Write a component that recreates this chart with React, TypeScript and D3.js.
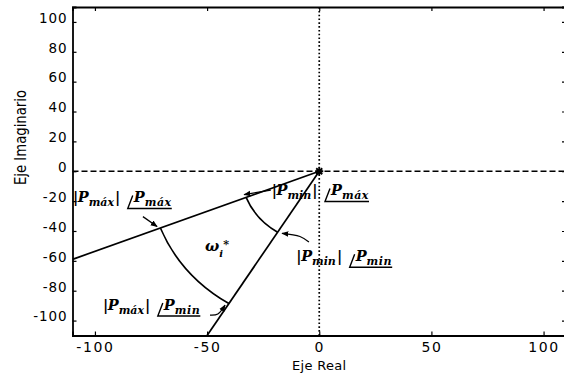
import React, { useEffect, useRef } from "react";
import * as d3 from "d3";

// axes
const xDomain = [-110, 110];
const yDomain = [-110, 110];
const xTicks = [-100, -50, 0, 50, 100];
const yTicks = [-100, -80, -60, -40, -20, 0, 20, 40, 60, 80, 100];

// rays from the origin: angle of Pmáx and angle of Pmin (end points, Re / Im)
const rayRe = [-110, -50];
const rayIm = [-59, -110];

// |Pmin| and |Pmáx| arcs (radius in Re units, Im weighted by imWeight)
const magnitudes = [35, 76];
const imWeight = 0.727;

// annotation labels |P_mag| /P_ang
const labelMag = ["máx", "min", "min", "máx"];
const labelAng = ["máx", "máx", "min", "min"];
const labelRe = [-109.8, -21.2, -10.2, -96.4];
const labelIm = [-20.6, -15.9, -59.9, -92.6];

// arrows pointing to the corners of the region
const arrowRe = [[-78.6, -72.3], [-21.6, -33.5], [-4.6, -8.6, -16.6], [-48.7, -45.2, -42.0]];
const arrowIm = [[-30.4, -37.0], [-12.6, -15.6], [-47.4, -43.7, -41.6], [-96.3, -95.6, -89.6]];

// ω label of the region
const omegaRe = -50.9;
const omegaIm = -53.4;

const W = 564, H = 373;
const left = 72.5, right = 566, top = 7, bottom = 335.5;

export default function App() {
	const ref = useRef<SVGSVGElement>(null);

	useEffect(() => {
		const svg = d3.select(ref.current);
		svg.selectAll("*").remove();

		const x = d3.scaleLinear().domain(xDomain).range([left, right]);
		const y = d3.scaleLinear().domain(yDomain).range([bottom, top]);
		const sans = "'DejaVu Sans', Arial, sans-serif";
		const serif = "'DejaVu Serif', 'Liberation Serif', serif";

		svg.append("rect").attr("width", W).attr("height", H).attr("fill", "#fff");

		const defs = svg.append("defs");
		defs.append("clipPath").attr("id", "plotclip")
			.append("rect")
			.attr("x", left).attr("y", top)
			.attr("width", right - left).attr("height", bottom - top);
		defs.append("marker")
			.attr("id", "head")
			.attr("viewBox", "0 0 10 10")
			.attr("refX", 9).attr("refY", 5)
			.attr("markerWidth", 7).attr("markerHeight", 7)
			.attr("markerUnits", "userSpaceOnUse")
			.attr("orient", "auto")
			.append("path")
			.attr("d", "M0,1 L10,5 L0,9 Z")
			.attr("fill", "#000");

		// axes / frame
		const fmt = (d: any) => String(d);
		const gB = svg.append("g").attr("transform", `translate(0,${bottom})`)
			.call(d3.axisBottom(x).tickValues(xTicks).tickSize(-4).tickPadding(7).tickFormat(fmt));
		const gL = svg.append("g").attr("transform", `translate(${left},0)`)
			.call(d3.axisLeft(y).tickValues(yTicks).tickSize(-4).tickPadding(5).tickFormat(fmt));
		svg.append("g").attr("transform", `translate(0,${top})`)
			.call(d3.axisTop(x).tickValues(xTicks).tickSize(-4).tickFormat(() => ""));
		svg.append("g").attr("transform", `translate(${right},0)`)
			.call(d3.axisRight(y).tickValues(yTicks).tickSize(-4).tickFormat(() => ""));

		svg.selectAll(".domain").attr("stroke", "#000").attr("stroke-width", 1.8);
		svg.selectAll(".tick line").attr("stroke", "#000").attr("stroke-width", 1.2);
		gB.selectAll("text")
			.attr("font-family", sans).attr("font-size", 14)
			.attr("letter-spacing", 1.6).attr("fill", "#000");
		gL.selectAll("text")
			.attr("font-family", sans).attr("font-size", 13.5)
			.attr("letter-spacing", 0.9).attr("y", -4).attr("fill", "#000");

		svg.append("text")
			.attr("x", x(0)).attr("y", 369.5)
			.attr("text-anchor", "middle")
			.attr("font-family", sans).attr("font-size", 13)
			.attr("letter-spacing", 0.3)
			.text("Eje Real");
		svg.append("text")
			.attr("transform", "translate(26,137.5) rotate(-90)")
			.attr("text-anchor", "middle")
			.attr("font-family", "'DejaVu Sans Condensed', 'DejaVu Sans', sans-serif")
			.attr("font-size", 15.5)
			.attr("textLength", 95)
			.attr("lengthAdjust", "spacingAndGlyphs")
			.text("Eje Imaginario");

		const plot = svg.append("g").attr("clip-path", "url(#plotclip)");

		// reference axes through the origin
		plot.append("line")
			.attr("x1", x(xDomain[0])).attr("x2", x(xDomain[1]))
			.attr("y1", y(0)).attr("y2", y(0))
			.attr("stroke", "#000").attr("stroke-width", 1.6)
			.attr("stroke-dasharray", "6,3");
		plot.append("line")
			.attr("x1", x(0)).attr("x2", x(0))
			.attr("y1", y(yDomain[0])).attr("y2", y(yDomain[1]))
			.attr("stroke", "#000").attr("stroke-width", 1.7)
			.attr("stroke-dasharray", "1.6,2.2");

		// rays
		rayRe.forEach((re, i) => {
			plot.append("line")
				.attr("x1", x(0)).attr("y1", y(0))
				.attr("x2", x(re)).attr("y2", y(rayIm[i]))
				.attr("stroke", "#000").attr("stroke-width", 1.7);
		});

		// magnitude arcs
		magnitudes.forEach((R) => {
			const pts = rayRe.map((re, i) => {
				const t = R / Math.hypot(re, imWeight * rayIm[i]);
				return [x(re * t), y(rayIm[i] * t)];
			});
			const rx = x(R) - x(0);
			const ry = y(0) - y(R / imWeight);
			plot.append("path")
				.attr("d", `M${pts[0][0]},${pts[0][1]} A${rx},${ry} 0 0 0 ${pts[1][0]},${pts[1][1]}`)
				.attr("fill", "none").attr("stroke", "#000").attr("stroke-width", 1.7);
		});

		// origin marker
		const ox = x(0), oy = y(0);
		plot.append("path")
			.attr("d", `M${ox - 4},${oy} H${ox + 4} M${ox},${oy - 4} V${oy + 4} M${ox - 3},${oy - 3} L${ox + 3},${oy + 3} M${ox - 3},${oy + 3} L${ox + 3},${oy - 3}`)
			.attr("stroke", "#000").attr("stroke-width", 1.8);

		// arrows
		const arrowLine = d3.line<number[]>().x((d) => x(d[0])).y((d) => y(d[1])).curve(d3.curveCatmullRom);
		arrowRe.forEach((res, i) => {
			const pts = res.map((re, j) => [re, arrowIm[i][j]]);
			svg.append("path")
				.attr("d", arrowLine(pts))
				.attr("fill", "none").attr("stroke", "#000").attr("stroke-width", 1.3)
				.attr("marker-end", "url(#head)");
		});

		// labels
		labelMag.forEach((m, i) => {
			const px = x(labelRe[i]);
			const py = y(labelIm[i]);
			const g = svg.append("g").attr("font-family", serif).attr("font-weight", "bold");
			const t1 = g.append("text").attr("x", px).attr("y", py).attr("font-size", 14.5);
			t1.append("tspan").text("|");
			t1.append("tspan").attr("font-style", "italic").attr("dx", -0.5).text("P");
			t1.append("tspan").attr("font-style", "italic").attr("font-size", 11).attr("dy", 4).text(m);
			t1.append("tspan").attr("dy", -4).attr("dx", 1).text("|");
			const w1 = (t1.node() as SVGTextElement).getComputedTextLength();
			const ax = px + w1 + 8;
			const t2 = g.append("text").attr("x", ax + 6).attr("y", py)
				.attr("font-size", 14.5).attr("font-style", "italic");
			t2.append("tspan").text("P");
			t2.append("tspan").attr("font-size", 11).attr("dy", 4)
				.attr("letter-spacing", 0.6).text(labelAng[i]);
			const w2 = (t2.node() as SVGTextElement).getComputedTextLength();
			g.append("path")
				.attr("d", `M${ax + 5},${py - 6.5} L${ax},${py + 6.5} H${ax + 6 + w2}`)
				.attr("fill", "none").attr("stroke", "#000").attr("stroke-width", 1.4);
		});

		// ω_i*
		const om = svg.append("text")
			.attr("x", x(omegaRe)).attr("y", y(omegaIm))
			.attr("font-family", serif).attr("font-weight", "bold")
			.attr("font-style", "italic").attr("font-size", 15);
		om.append("tspan").text("ω");
		om.append("tspan").attr("font-size", 10).attr("dy", 6).text("i");
		om.append("tspan").attr("font-size", 11).attr("dx", 0).attr("dy", -9).text("*");
	}, []);

	return (
		<svg
			ref={ref}
			width={W}
			height={H}
			style={{ position: "absolute", left: 0, top: 0, display: "block" }}
		/>
	);
}
